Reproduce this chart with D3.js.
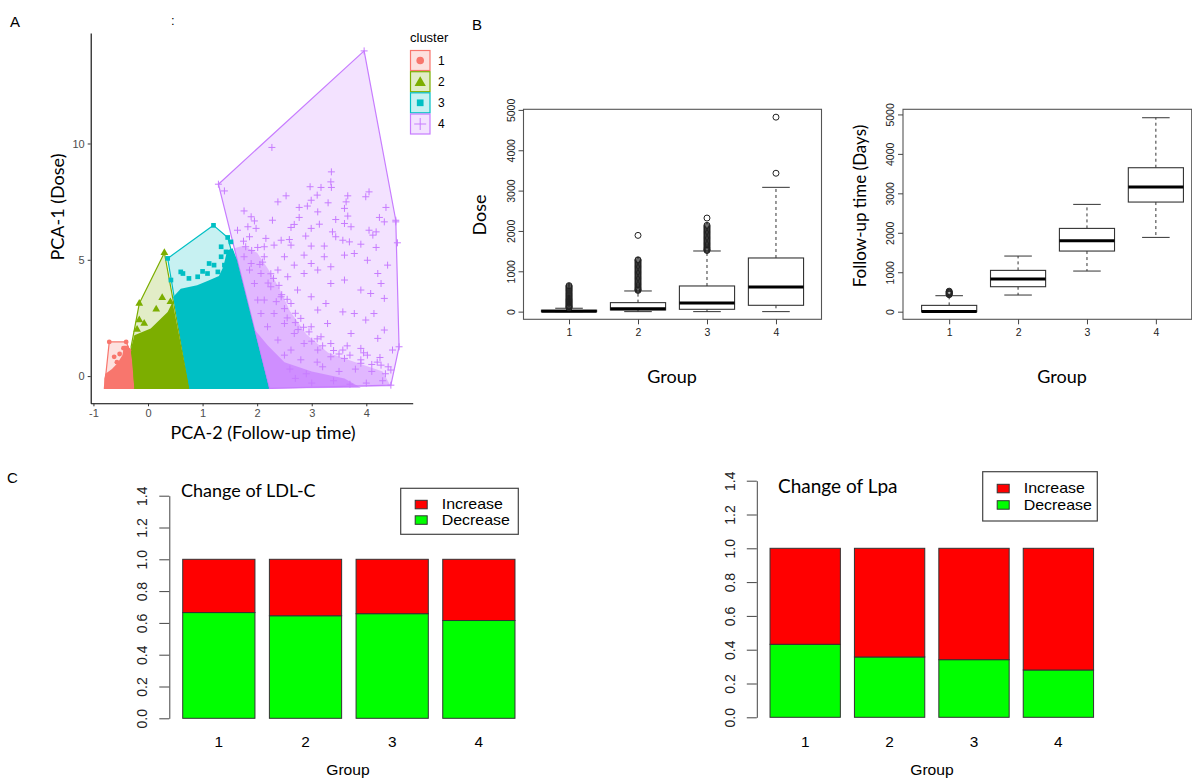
<!DOCTYPE html>
<html><head><meta charset="utf-8">
<script src="https://cdn.jsdelivr.net/npm/d3@7"></script>
<style>body{margin:0;background:#fff}svg{display:block}</style>
</head><body>
<svg id="c" width="1192" height="779"></svg>
<script>
// ---------- DATA ----------
const clusters = ["1","2","3","4"];
const clusterColors = ["#F8766D","#7CAE00","#00BFC4","#C77CFF"];
const xTicksA = [-1,0,1,2,3,4];
const yTicksA = [0,5,10];
const hull1 = [[-0.71,1.47],[-0.40,1.47],[-0.31,0.97],[-0.25,-0.53],[-0.80,-0.53],[-0.78,-0.1]];
const hull2 = [[0.30,5.30],[0.76,-0.53],[-0.25,-0.53],[-0.31,1.26],[-0.16,3.12]];
const hull3 = [[0.36,5.06],[1.20,6.48],[1.46,5.96],[2.22,-0.53],[0.76,-0.53]];
const hull4 = [[1.29,8.25],[3.96,13.98],[4.54,6.70],[4.60,1.26],[4.45,-0.39],[2.22,-0.53]];
const dense1 = [[-0.80,-0.53],[-0.25,-0.53],[-0.28,0.5],[-0.31,0.97],[-0.36,1.3],[-0.44,1.3],[-0.47,0.9],[-0.56,0.55],[-0.66,0.3],[-0.78,0.1],[-0.80,-0.1]];
const dense2 = [[-0.25,-0.53],[-0.31,1.2],[-0.25,1.76],[0.05,2.05],[0.36,2.76],[0.45,3.19],[0.76,-0.53]];
const dense3 = [[0.76,-0.53],[0.46,3.4],[0.6,3.75],[0.9,3.9],[1.1,4.1],[1.3,4.3],[1.38,4.7],[1.45,5.4],[1.55,5.5],[1.63,5.0],[2.22,-0.53]];
const dense4mid = [[1.58,5.5],[2.22,-0.53],[4.45,-0.45],[4.3,0.2],[3.8,0.6],[3.3,1.0],[2.9,1.8],[2.6,2.8],[2.4,3.8],[2.2,4.6],[2.0,5.3],[1.75,5.6]];
const dense4core = [[1.95,2.0],[2.22,-0.53],[3.9,-0.5],[3.6,-0.1],[3.0,0.2],[2.5,0.6],[2.2,1.3]];
const c1Pts = [[-0.71,1.47],[-0.40,1.47],[-0.62,0.83],[-0.57,0.6],[-0.52,0.95],[-0.45,1.2],[-0.35,1.1]];
const c2Pts = [[0.30,5.30],[-0.16,3.12],[0.26,3.37],[0.41,3.19],[0.15,2.87],[-0.16,2.41],[-0.07,2.26],[-0.20,2.0]];
const c3Pts = [[1.20,6.48],[1.46,5.96],[1.52,5.77],[0.36,5.06],[1.34,5.56],[1.43,5.34],[1.52,5.27],[1.34,5.13],[1.49,4.91],[1.12,4.84],[1.21,4.77],[1.40,4.77],[0.60,4.48],[0.64,4.41],[1.09,4.41],[1.28,4.48],[1.52,4.56],[0.91,4.27],[0.42,4.13],[0.75,4.2],[1.0,4.5]];
const c4Pts = [[3.96,13.98],[2.27,9.83],[1.29,8.25],[1.40,7.96],[3.36,8.78],[3.35,8.35],[3.36,8.11],[2.97,8.14],[3.17,8.11],[4.05,7.92],[3.99,7.71],[2.53,7.75],[2.38,7.49],[3.10,7.78],[2.99,7.56],[3.66,7.75],[3.63,7.49],[3.30,7.45],[1.76,7.10],[2.77,7.25],[2.92,7.31],[3.11,7.06],[3.60,7.21],[3.66,6.88],[4.36,7.25],[1.89,6.85],[1.95,6.67],[2.28,6.70],[2.77,6.82],[3.44,6.73],[4.24,6.82],[4.54,6.63],[4.33,6.63],[1.64,6.27],[1.83,6.42],[1.98,6.35],[2.62,6.39],[2.68,6.52],[2.99,6.35],[3.14,6.53],[3.60,6.56],[3.72,6.42],[3.38,6.20],[4.05,6.27],[4.18,6.20],[4.12,6.06],[1.86,5.99],[2.16,5.92],[2.44,5.84],[2.59,5.87],[2.89,6.02],[3.44,5.99],[3.57,5.84],[3.69,5.77],[3.90,5.67],[4.57,5.73],[1.79,5.56],[2.01,5.53],[2.13,5.56],[2.31,5.63],[2.62,5.63],[2.99,5.59],[3.23,5.59],[4.18,5.53],
[3.78,5.27],[4.02,4.98],[4.39,4.77],[4.21,4.41],[4.27,3.98],[3.90,3.70],[4.08,3.55],[4.33,3.34],[3.60,4.13],[3.35,3.98],[3.57,2.76],[3.78,2.69],[3.99,2.41],[4.14,2.69],[4.33,1.98],[4.21,1.62],[3.90,1.19],[4.02,0.90],[4.48,1.12],[4.60,1.26],[4.27,0.47],[4.45,0.26],[3.72,1.83],[3.57,1.12],[3.60,0.76],[3.17,1.69],[3.29,2.26],[2.99,2.12],[2.80,2.48],[3.11,2.84],[3.26,3.12],[2.99,3.41],[2.74,3.70],[2.62,3.12],[2.44,3.41],[2.25,3.84],[2.56,4.27],[2.86,4.41],[3.11,4.56],[3.35,4.70],[2.99,4.84],[2.68,4.77],[2.38,4.56],[2.07,4.41],[1.89,4.84],[2.13,5.13],[2.50,5.13],[2.86,5.20],[3.23,5.13],[3.60,5.20],[1.95,3.98],[2.13,3.27],[2.31,2.69],[2.50,2.26],[2.68,1.83],[2.86,1.40],[3.11,1.12],[3.35,0.83],[2.62,1.12],[2.38,1.55],[2.19,2.12],[2.07,2.69],[2.01,3.27],[1.86,4.56],[1.76,5.13],
[2.6,0.3],[2.9,0.1],[3.2,0.4],[3.5,0.2],[3.8,0.3],[4.1,0.2],[4.3,-0.2],[3.0,-0.3],[3.4,-0.2],[2.7,-0.1],[4.0,-0.3],[3.7,-0.35],[2.5,0.9],[2.8,0.7],[3.1,0.6],[3.9,0.7],[4.2,0.6],[4.45,-0.39],[4.54,6.70],
[2.45,3.5],[2.3,4.2],[2.1,4.9],[2.55,2.5],[2.75,2.0],[3.0,1.5],[3.4,1.1],[3.7,0.9],[4.1,0.5],[4.35,0.1],[2.2,4.0],[2.35,3.2],[2.5,2.9],[2.7,2.3],[2.95,1.9],[3.2,1.3],[3.5,0.95],[3.9,0.55],[1.9,5.4],[1.75,5.8],[2.05,4.8],[2.25,4.4],[2.4,3.9],[2.55,3.3],[2.7,2.7],[2.85,2.1],[3.1,1.6],[3.35,1.4],[3.65,1.3],[3.95,1.0],[4.25,0.8],[4.4,0.4]];

const groups = [1,2,3,4];
const yTicksB = [0,1000,2000,3000,4000,5000];
// [lower whisker, Q1, median, Q3, upper whisker]
const doseStats = [[0,0,10,35,84],[0,41,74,223,512],[0,58,215,636,1503],[0,157,611,1330,3081]];
const doseOutliers = [
  [95,110,125,140,160,180,200,220,240,260,280,300,320,345,370,395,420,445,470,500,525,550,575,600,625,645],
  [525,540,560,585,610,640,670,700,730,760,790,820,850,880,910,940,970,1000,1030,1060,1090,1120,1150,1180,1210,1240,1270,1285,1890],
  [1515,1530,1550,1575,1600,1630,1660,1690,1720,1750,1780,1810,1840,1870,1900,1930,1960,1990,2020,2050,2080,2110,2140,2320],
  [3430,4820]];
const followStats = [[0,0,5,160,405],[422,633,828,1047,1410],[1030,1537,1799,2111,2720],[1883,2779,3159,3649,4916]];
const followOutliers = [[430,445,460,475,490,505,520],[],[],[]];

const yTicksC = [0,0.2,0.4,0.6,0.8,1.0,1.2,1.4];
const legendC = ["Increase","Decrease"];
const colorsC = ["#FF0000","#00FF00"];
const ldlDecrease = [0.665,0.645,0.658,0.615];
const ldlIncrease = [0.335,0.355,0.342,0.385];
const lpaDecrease = [0.432,0.357,0.341,0.280];
const lpaIncrease = [0.568,0.643,0.659,0.720];

// ---------- DRAW ----------
const svg = d3.select("#c");
const HUM = "Lato, 'Open Sans', sans-serif";
const ARI = "'Liberation Sans', Arial, sans-serif";

function label(x,y,s,size,opt={}) {
  const t = svg.append("text").attr("x",x).attr("y",y).text(s)
    .attr("font-family",opt.font||ARI).attr("font-size",size)
    .attr("fill",opt.fill||"#000").attr("text-anchor",opt.anchor||"start");
  if (opt.rot) t.attr("x",0).attr("y",0).attr("transform",`translate(${x},${y}) rotate(-90)`);
  if (opt.sx) t.attr("x",0).attr("y",0).attr("transform",`translate(${x},${y}) scale(${opt.sx},1)`);
  return t;
}

// Panel labels
label(10,27,"A",15);
label(472,30,"B",15);
label(7,483,"C",15);
label(171,25,":",13);

// ----- Panel A -----
const xA = d3.scaleLinear().domain([-1.05,4.85]).range([90.7,412.7]);
const yA = d3.scaleLinear().domain([-1.17,14.75]).range([403.3,33]);
const gA = svg.append("g");
const poly = d3.line().x(d=>xA(d[0])).y(d=>yA(d[1])).curve(d3.curveLinearClosed);
[hull1,hull2,hull3,hull4].forEach((h,i)=>{
  gA.append("path").attr("d",poly(h)).attr("fill",clusterColors[i]).attr("fill-opacity",0.22)
    .attr("stroke",clusterColors[i]).attr("stroke-width",1.2).attr("stroke-linejoin","round");
});
[dense1,dense2,dense3].forEach((d,i)=>gA.append("path").attr("d",poly(d)).attr("fill",clusterColors[i]));
gA.append("path").attr("d",poly(dense4mid)).attr("fill",clusterColors[3]).attr("fill-opacity",0.42);
gA.append("path").attr("d",poly(dense4core)).attr("fill",clusterColors[3]).attr("fill-opacity",0.7);

gA.selectAll("circle.p1").data(c1Pts).join("circle").attr("cx",d=>xA(d[0])).attr("cy",d=>yA(d[1])).attr("r",2.4).attr("fill",clusterColors[0]);
gA.selectAll("path.p2").data(c2Pts).join("path").attr("d",d3.symbol(d3.symbolTriangle,26))
  .attr("transform",d=>`translate(${xA(d[0])},${yA(d[1])})`).attr("fill",clusterColors[1]);
gA.selectAll("path.p3").data(c3Pts).join("path").attr("d",d3.symbol(d3.symbolSquare,22))
  .attr("transform",d=>`translate(${xA(d[0])},${yA(d[1])})`).attr("fill",clusterColors[2]);
gA.selectAll("path.p4").data(c4Pts).join("path")
  .attr("d",d=>{const x=xA(d[0]),y=yA(d[1]);return `M${x-3.5},${y}H${x+3.5}M${x},${y-3.5}V${y+3.5}`;})
  .attr("stroke",clusterColors[3]).attr("stroke-width",1).attr("fill","none");

const axA1 = gA.append("g").attr("transform","translate(0,403.3)")
  .call(d3.axisBottom(xA).tickValues(xTicksA).tickSize(3).tickSizeOuter(0).tickFormat(d=>String(d)));
const axA2 = gA.append("g").attr("transform","translate(90.7,0)")
  .call(d3.axisLeft(yA).tickValues(yTicksA).tickSize(3).tickSizeOuter(0).tickFormat(d=>String(d)));
[axA1,axA2].forEach(a=>{
  a.select(".domain").attr("stroke","#000").attr("stroke-width",1.1);
  a.selectAll(".tick line").attr("stroke","#333");
  a.selectAll(".tick text").attr("fill","#4D4D4D").attr("font-size",11).attr("font-family",ARI);
});
label(263,439,"PCA-2 (Follow-up time)",18,{font:HUM,anchor:"middle"});
label(64,207,"PCA-1 (Dose)",18,{font:HUM,anchor:"middle",rot:true});

// legend A
label(410,41.7,"cluster",13);
const keyY = [50.5,71.7,92.8,114];
clusters.forEach((c,i)=>{
  const y=keyY[i];
  gA.append("rect").attr("x",410.5).attr("y",y).attr("width",19.5).attr("height",20)
    .attr("fill",clusterColors[i]).attr("fill-opacity",0.22).attr("stroke",clusterColors[i]).attr("stroke-width",1.2);
  const cx=420.2, cy=y+10;
  if(i===0) gA.append("circle").attr("cx",cx).attr("cy",cy).attr("r",3.8).attr("fill",clusterColors[0]);
  if(i===1) gA.append("path").attr("d",d3.symbol(d3.symbolTriangle,55)).attr("transform",`translate(${cx},${cy+1})`).attr("fill",clusterColors[1]);
  if(i===2) gA.append("path").attr("d",d3.symbol(d3.symbolSquare,45)).attr("transform",`translate(${cx},${cy})`).attr("fill",clusterColors[2]);
  if(i===3) gA.append("path").attr("d",`M${cx-6},${cy}H${cx+6}M${cx},${cy-6}V${cy+6}`).attr("stroke",clusterColors[3]).attr("stroke-width",1);
  label(438,cy+4.3,c,12);
});

// ----- Panel B -----
function boxPanel(xs, ys, stats, outl, yLabel, yLabX, yLabY, ylabSize, grpX) {
  const g = svg.append("g");
  const [x0,x1] = xs.range(), [yb,yt] = ys.range();
  stats.forEach((s,i)=>{
    const c = groups[i];
    const bl = xs(c-0.4), br = xs(c+0.4), sl = xs(c-0.2), sr = xs(c+0.2), cx = xs(c);
    g.append("line").attr("x1",cx).attr("x2",cx).attr("y1",ys(s[3])).attr("y2",ys(s[4])).attr("stroke","#333").attr("stroke-dasharray","3,3");
    g.append("line").attr("x1",cx).attr("x2",cx).attr("y1",ys(s[1])).attr("y2",ys(s[0])).attr("stroke","#333").attr("stroke-dasharray","3,3");
    g.append("line").attr("x1",sl).attr("x2",sr).attr("y1",ys(s[4])).attr("y2",ys(s[4])).attr("stroke","#333");
    g.append("line").attr("x1",sl).attr("x2",sr).attr("y1",ys(s[0])).attr("y2",ys(s[0])).attr("stroke","#333");
    g.append("rect").attr("x",bl).attr("y",ys(s[3])).attr("width",br-bl).attr("height",Math.max(0.5,ys(s[1])-ys(s[3])))
      .attr("fill","#fff").attr("stroke","#333").attr("stroke-width",1.1);
    g.append("line").attr("x1",bl).attr("x2",br).attr("y1",ys(s[2])).attr("y2",ys(s[2])).attr("stroke","#000").attr("stroke-width",3);
    g.selectAll(null).data(outl[i]).join("circle").attr("cx",cx).attr("cy",d=>ys(d)).attr("r",3)
      .attr("fill","none").attr("stroke","#222").attr("stroke-width",1);
  });
  g.append("rect").attr("x",x0).attr("y",yt).attr("width",x1-x0).attr("height",yb-yt).attr("fill","none").attr("stroke","#555").attr("stroke-width",1.1);
  const ay = g.append("g").attr("transform",`translate(${x0},0)`).call(d3.axisLeft(ys).tickValues(yTicksB).tickSize(5).tickFormat(d=>String(d)));
  ay.select(".domain").remove();
  ay.selectAll(".tick line").attr("stroke","#444");
  ay.selectAll(".tick text").attr("transform","rotate(-90)").attr("x",0).attr("y",-9).attr("dy",0)
    .attr("text-anchor","middle").attr("font-size",10.5).attr("font-family",ARI).attr("fill","#222");
  const ax = g.append("g").attr("transform",`translate(0,${yb})`).call(d3.axisBottom(xs).tickValues(groups).tickSize(5).tickFormat(d=>String(d)));
  ax.select(".domain").remove();
  ax.selectAll(".tick line").attr("stroke","#444");
  ax.selectAll(".tick text").attr("y",17).attr("dy",0).attr("font-size",10.5).attr("font-family",ARI).attr("fill","#222");
  label(yLabX,yLabY,yLabel,ylabSize,{font:HUM,anchor:"middle",rot:true});
  label(grpX,383,"Group",18,{font:HUM,anchor:"middle"});
}
const xB1 = d3.scaleLinear().domain([0.34,4.66]).range([523.5,821.5]);
const yB1 = d3.scaleLinear().domain([-190,5015]).range([319.3,109.3]);
boxPanel(xB1,yB1,doseStats,doseOutliers,"Dose",486,215,18,672);
const xB2 = d3.scaleLinear().domain([0.33,4.52]).range([903,1191.7]);
const yB2 = d3.scaleLinear().domain([-193,5130]).range([319.3,109.3]);
boxPanel(xB2,yB2,followStats,followOutliers,"Follow-up time (Days)",866,206,17,1062);

// ----- Panel C -----
function barPanel(xs, ys, dec, inc, title, titleX, titleY, titleSize, leg, tickY, grpX, grpY) {
  const g = svg.append("g");
  groups.forEach((c,i)=>{
    g.append("rect").attr("x",xs(c)).attr("width",xs.bandwidth()).attr("y",ys(dec[i])).attr("height",ys(0)-ys(dec[i]))
      .attr("fill",colorsC[1]).attr("stroke","#333").attr("stroke-width",1);
    g.append("rect").attr("x",xs(c)).attr("width",xs.bandwidth()).attr("y",ys(dec[i]+inc[i])).attr("height",ys(dec[i])-ys(dec[i]+inc[i]))
      .attr("fill",colorsC[0]).attr("stroke","#333").attr("stroke-width",1);
    label(xs(c)+xs.bandwidth()/2, tickY, String(c), 14, {anchor:"middle", sx:1.1});
  });
  const ax0 = xs.range()[0] - 6.2;
  const ay = g.append("g").attr("transform",`translate(${ax0},0)`).call(d3.axisLeft(ys).tickValues(yTicksC).tickSize(10).tickSizeOuter(0).tickFormat(d3.format(".1f")));
  ay.select(".domain").attr("stroke","#444");
  ay.selectAll(".tick line").attr("stroke","#444");
  ay.selectAll(".tick text").attr("transform","rotate(-90)").attr("x",0).attr("y",-22).attr("dy",0)
    .attr("text-anchor","middle").attr("font-size",14).attr("font-family",ARI).attr("fill","#222");
  label(titleX,titleY,title,titleSize,{font:HUM});
  // legend
  g.append("rect").attr("x",leg.x).attr("y",leg.y).attr("width",leg.w).attr("height",leg.h).attr("fill","#fff").attr("stroke","#444").attr("stroke-width",1.2);
  legendC.forEach((s,i)=>{
    g.append("rect").attr("x",leg.x+14.5).attr("y",leg.y+leg.r0+i*leg.dy).attr("width",12).attr("height",8.5)
      .attr("fill",colorsC[i]).attr("stroke","#333");
    label(leg.x+41,leg.y+leg.r0+i*leg.dy+9,s,14,{sx:1.14});
  });
  label(grpX,grpY,"Group",14,{anchor:"middle",sx:1.12});
}
const xC1 = d3.scaleBand().domain(groups).range([175.5,522.2]).paddingInner(0.1667).paddingOuter(0.0833);
const yC1 = d3.scaleLinear().domain([0,1.4]).range([718.3,495.7]);
barPanel(xC1,yC1,ldlDecrease,ldlIncrease,"Change of LDL-C",181,497,18,{x:400.7,y:488.3,w:117.6,h:46,r0:12,dy:15.5},746.7,348,775);
const xC2 = d3.scaleBand().domain(groups).range([763,1100.6]).paddingInner(0.1667).paddingOuter(0.0833);
const yC2 = d3.scaleLinear().domain([0,1.4]).range([717.3,480.7]);
barPanel(xC2,yC2,lpaDecrease,lpaIncrease,"Change of Lpa",778,493,19,{x:982.7,y:471.7,w:114.6,h:49.3,r0:12.6,dy:16.4},747,932,775);
</script>
</body></html>
